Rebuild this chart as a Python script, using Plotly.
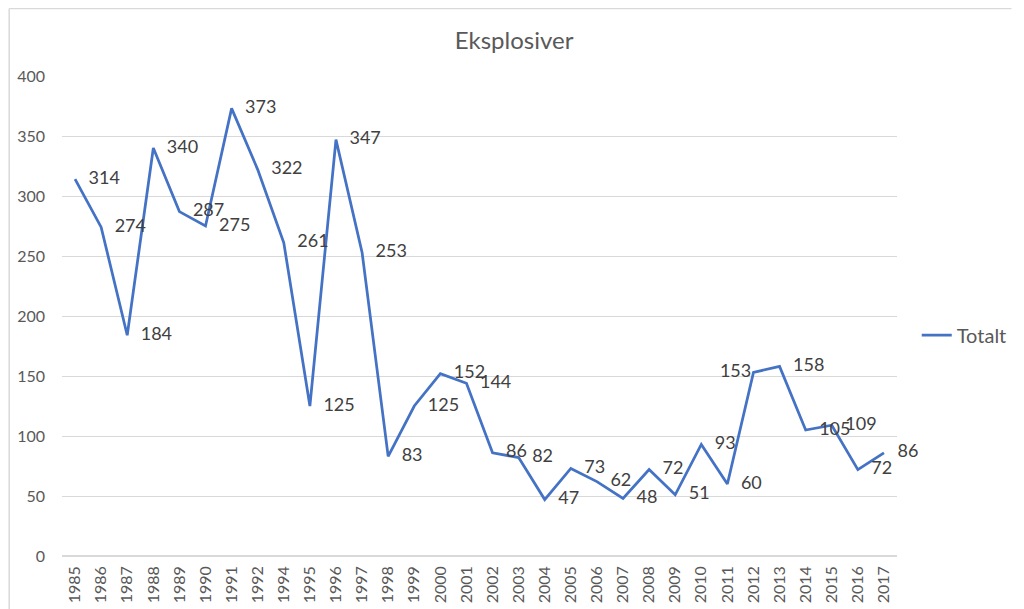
import plotly.graph_objects as go

years = ["1985", "1986", "1987", "1988", "1989", "1990", "1991", "1992", "1994", "1995",
         "1996", "1997", "1998", "1999", "2000", "2001", "2002", "2003", "2004", "2005",
         "2006", "2007", "2008", "2009", "2010", "2011", "2012", "2013", "2014", "2015",
         "2016", "2017"]
totalt = [314, 274, 184, 340, 287, 275, 373, 322, 261, 125,
          347, 253, 83, 125, 152, 144, 86, 82, 47, 73,
          62, 48, 72, 51, 93, 60, 153, 158, 105, 109,
          72, 86]
label_pos = ["middle right"] * len(totalt)
label_pos[years.index("2012")] = "middle left"

y_ticks = [0, 50, 100, 150, 200, 250, 300, 350, 400]

FONT = "Lato, Carlito, Calibri, sans-serif"
# page body has an 8px margin; figure sized to fill the rest of the window
W, H = 1016, 601
ML, MR, MT, MB = 54, 116, 68, 53
pw, ph = W - ML - MR, H - MT - MB

msize = [20] * len(totalt)
msize[years.index("2012")] = 2

fig = go.Figure()
fig.add_trace(go.Scatter(
    x=years, y=totalt, name="Totalt",
    mode="lines+markers+text",
    line=dict(color="#4472C4", width=2.75),
    marker=dict(size=msize, color="rgba(0,0,0,0)", line=dict(width=0)),
    text=[str(v) for v in totalt],
    textposition=label_pos,
    textfont=dict(family=FONT, size=18, color="#404040"),
    cliponaxis=False,
))

fig.update_layout(
    width=W, height=H,
    margin=dict(l=ML, r=MR, t=MT, b=MB),
    paper_bgcolor="white", plot_bgcolor="white",
    title=dict(text="Eksplosiver", x=(512 - ML) / pw, xref="paper", xanchor="center",
               y=1 - 33 / H, yref="container", yanchor="middle",
               font=dict(family=FONT, size=24, color="#595959")),
    xaxis=dict(type="category", range=[-0.5, len(years) - 0.5], tickangle=-90,
               showgrid=False, showline=False, ticks="", automargin=False,
               ticklabelstandoff=6,
               tickfont=dict(family=FONT, size=16, color="#595959")),
    yaxis=dict(range=[0, 400], tickvals=y_ticks, showgrid=True, gridcolor="#d9d9d9",
               gridwidth=1, zeroline=True, zerolinecolor="#d9d9d9", showline=False,
               ticks="", ticklabelstandoff=16, automargin=False,
               tickfont=dict(family=FONT, size=16, color="#595959")),
    showlegend=True,
    legend=dict(x=(920 - ML) / pw, y=(548 - 327) / ph, xanchor="left", yanchor="middle",
                font=dict(family=FONT, size=20, color="#595959"),
                bgcolor="rgba(0,0,0,0)", itemwidth=30),
    shapes=[
        dict(type="line", xref="paper", yref="paper",
             x0=(0.5 - ML) / pw, x1=(0.5 - ML) / pw, y0=(548 - 601) / ph, y1=(548 - 0.5) / ph,
             line=dict(color="#d9d9d9", width=1.5)),
        dict(type="line", xref="paper", yref="paper",
             x0=(0.5 - ML) / pw, x1=(1016 - ML) / pw, y0=(548 - 0.5) / ph, y1=(548 - 0.5) / ph,
             line=dict(color="#d9d9d9", width=1.5)),
    ],
)

fig.write_html("out.html")
